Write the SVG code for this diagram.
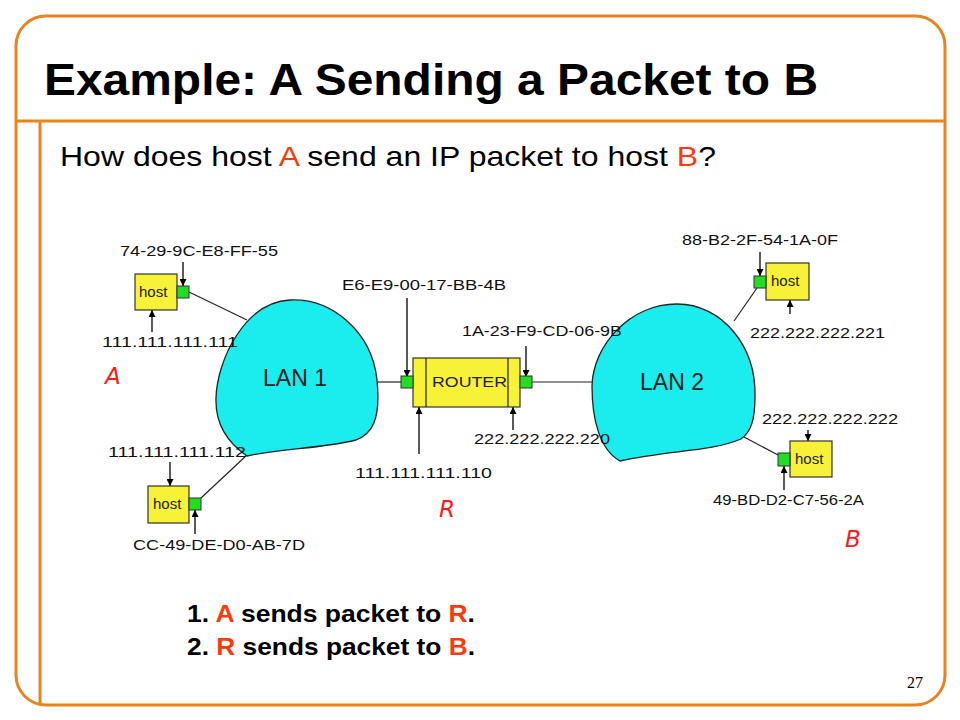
<svg xmlns="http://www.w3.org/2000/svg" width="960" height="720" viewBox="0 0 960 720">
<defs>
<marker id="ah" viewBox="0 0 10 10" refX="10" refY="5" markerWidth="7" markerHeight="7" markerUnits="userSpaceOnUse" orient="auto">
<path d="M0,0 L10,5 L0,10 Z" fill="#000"/>
</marker>
<style>
.frame{fill:none;stroke:#E8841E;stroke-width:3}
.lbl{font-family:"Liberation Sans",Arial,sans-serif;font-size:15px;fill:#111}
.hostbox{fill:#F7F236;stroke:#333;stroke-width:1.2}
.nic{fill:#22DD22;stroke:#333;stroke-width:1}
.hosttxt{font-family:"Liberation Sans",Arial,sans-serif;font-size:15px;fill:#222}
.lan{fill:#1BEDEF;stroke:#222;stroke-width:1.3}
.lantxt{font-family:"Liberation Sans",Arial,sans-serif;font-size:23px;fill:#222}
.wire{stroke:#222;stroke-width:1.2;fill:none}
.arr{stroke:#000;stroke-width:1.3;fill:none;marker-end:url(#ah)}
.red{font-family:"DejaVu Sans",sans-serif;font-style:italic;font-size:23px;fill:#FF1A1A}
.hl{fill:#FF3A0A}
</style>
</defs>
<rect width="960" height="720" fill="#fff"/>
<g id="frame">
<rect class="frame" x="16" y="16" width="929" height="689" rx="30" ry="30"/>
<line class="frame" x1="16" y1="121" x2="945" y2="121"/>
<line class="frame" x1="40" y1="121" x2="40" y2="705"/>
</g>
<text x="44" y="95" font-family="Liberation Sans,Arial,sans-serif" font-weight="bold" font-size="44" fill="#000" textLength="774" lengthAdjust="spacingAndGlyphs">Example: A Sending a Packet to B</text>
<text x="60" y="166" font-family="Liberation Sans,Arial,sans-serif" font-size="28" fill="#000" textLength="656" lengthAdjust="spacingAndGlyphs">How does host <tspan class="hl">A</tspan> send an IP packet to host <tspan class="hl">B</tspan>?</text>

<g id="connectors">
<line class="wire" x1="189" y1="292" x2="247" y2="320"/>
<line class="wire" x1="201" y1="498" x2="247" y2="455"/>
<line class="wire" x1="378" y1="382" x2="401" y2="382"/>
<line class="wire" x1="532" y1="382" x2="592" y2="382"/>
<line class="wire" x1="757" y1="288" x2="734" y2="321"/>
<line class="wire" x1="778" y1="455" x2="744" y2="437"/>
<line class="arr" x1="183" y1="262" x2="183" y2="286"/>
<line class="arr" x1="152" y1="332" x2="152" y2="310"/>
<line class="arr" x1="170" y1="462" x2="170" y2="486"/>
<line class="arr" x1="195" y1="534" x2="195" y2="510"/>
<line class="arr" x1="407" y1="298" x2="407" y2="377"/>
<line class="arr" x1="526" y1="346" x2="526" y2="377"/>
<line class="arr" x1="419" y1="454" x2="419" y2="407"/>
<line class="arr" x1="513" y1="430" x2="513" y2="407"/>
<line class="arr" x1="760" y1="252" x2="760" y2="276"/>
<line class="arr" x1="790" y1="314" x2="790" y2="300"/>
<line class="arr" x1="808" y1="430" x2="808" y2="441"/>
<line class="arr" x1="784" y1="490" x2="784" y2="466"/>
</g>

<g id="lan1">
<path class="lan" d="M290 300 C332 298 372 332 377 380 C381 420 372 434 356 440 C320 449 282 448 247 456 C228 443 215 425 216 398 C217 360 245 302 290 300 Z"/>
<text class="lantxt" x="263" y="386">LAN 1</text>
</g>
<g id="lan2">
<path class="lan" d="M677 304 C722 304 756 346 755 396 C755 420 751 432 741 439 C710 452 668 450 620 461 C600 450 592 420 592 386 C593 345 630 304 677 304 Z"/>
<text class="lantxt" x="640" y="390">LAN 2</text>
</g>

<g id="hostA">
<rect class="hostbox" x="135" y="274" width="42" height="36"/>
<text class="hosttxt" x="139" y="297">host</text>
<rect class="nic" x="177" y="286" width="12" height="12"/>
<text class="lbl" x="120" y="256" textLength="158" lengthAdjust="spacingAndGlyphs">74-29-9C-E8-FF-55</text>
<text class="lbl" x="102" y="347" textLength="136" lengthAdjust="spacingAndGlyphs">111.111.111.111</text>
<text class="red" x="105" y="384">A</text>
</g>

<g id="hostA2">
<rect class="hostbox" x="148" y="486" width="41" height="37"/>
<text class="hosttxt" x="153" y="509">host</text>
<rect class="nic" x="189" y="498" width="12" height="12"/>
<text class="lbl" x="108" y="457" textLength="138" lengthAdjust="spacingAndGlyphs">111.111.111.112</text>
<text class="lbl" x="133" y="550" textLength="172" lengthAdjust="spacingAndGlyphs">CC-49-DE-D0-AB-7D</text>
</g>

<g id="router">
<rect class="hostbox" x="413" y="358" width="107" height="49"/>
<line class="wire" x1="426" y1="358" x2="426" y2="407"/>
<line class="wire" x1="508" y1="358" x2="508" y2="407"/>
<text class="hosttxt" x="432" y="387" textLength="75" lengthAdjust="spacingAndGlyphs">ROUTER</text>
<rect class="nic" x="401" y="376" width="12" height="12"/>
<rect class="nic" x="520" y="376" width="12" height="12"/>
<text class="lbl" x="342" y="290" textLength="164" lengthAdjust="spacingAndGlyphs">E6-E9-00-17-BB-4B</text>
<text class="lbl" x="462" y="336" textLength="160" lengthAdjust="spacingAndGlyphs">1A-23-F9-CD-06-9B</text>
<text class="lbl" x="474" y="444" textLength="136" lengthAdjust="spacingAndGlyphs">222.222.222.220</text>
<text class="lbl" x="355" y="478" textLength="137" lengthAdjust="spacingAndGlyphs">111.111.111.110</text>
<text class="red" x="439" y="517">R</text>
</g>

<g id="hostB1">
<rect class="hostbox" x="766" y="263" width="43" height="37"/>
<text class="hosttxt" x="771" y="286">host</text>
<rect class="nic" x="754" y="276" width="12" height="12"/>
<text class="lbl" x="682" y="245" textLength="156" lengthAdjust="spacingAndGlyphs">88-B2-2F-54-1A-0F</text>
<text class="lbl" x="750" y="338" textLength="135" lengthAdjust="spacingAndGlyphs">222.222.222.221</text>
</g>

<g id="hostB">
<rect class="hostbox" x="790" y="441" width="42" height="36"/>
<text class="hosttxt" x="795" y="464">host</text>
<rect class="nic" x="778" y="453" width="12" height="13"/>
<text class="lbl" x="762" y="424" textLength="136" lengthAdjust="spacingAndGlyphs">222.222.222.222</text>
<text class="lbl" x="713" y="505" textLength="151" lengthAdjust="spacingAndGlyphs">49-BD-D2-C7-56-2A</text>
<text class="red" x="845" y="547">B</text>
</g>

<g font-family="Liberation Sans,Arial,sans-serif" font-weight="bold" font-size="24" fill="#000">
<text x="187" y="622" textLength="288" lengthAdjust="spacingAndGlyphs">1. <tspan class="hl">A</tspan> sends packet to <tspan class="hl">R</tspan>.</text>
<text x="187" y="655" textLength="288" lengthAdjust="spacingAndGlyphs">2. <tspan class="hl">R</tspan> sends packet to <tspan class="hl">B</tspan>.</text>
</g>
<text x="907" y="688" font-family="Liberation Serif,Times New Roman,serif" font-size="16" fill="#000">27</text>
</svg>
